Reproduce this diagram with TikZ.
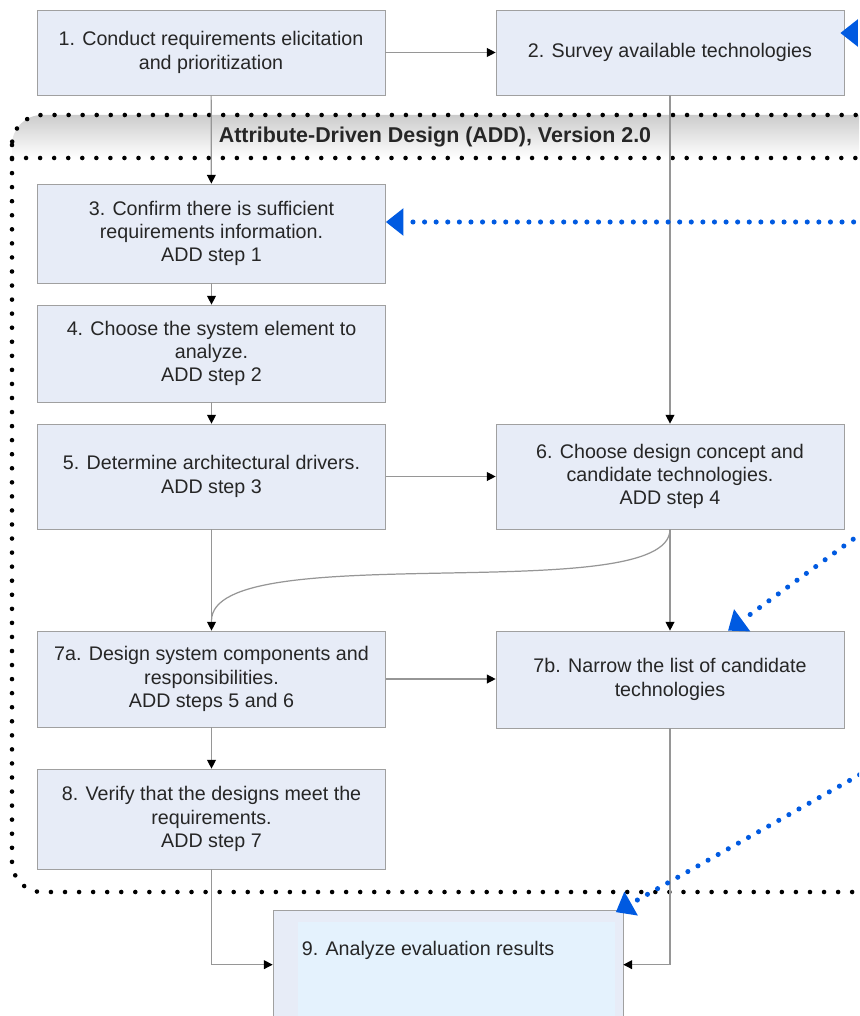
\documentclass[tikz,border=0pt]{standalone}
\usepackage{fontspec}
\setmainfont{Liberation Sans}
\usetikzlibrary{arrows.meta}

\definecolor{boxfill}{RGB}{231,236,247}
\definecolor{boxline}{RGB}{160,160,160}
\definecolor{linegray}{RGB}{150,150,150}
\definecolor{hintblue}{RGB}{0,90,225}
\definecolor{innerfill}{RGB}{228,242,253}

\begin{document}
\begin{tikzpicture}[x=0.02cm,y=-0.02cm]

%-------------------------------------------------
% Styles
%-------------------------------------------------
\tikzset{
  box/.style={draw=boxline, fill=boxfill, minimum width=6.96cm, align=center,
    inner sep=2pt, text=black!85, font=\fontsize{11.2}{13.2}\selectfont},
  flow/.style={draw=linegray, line width=0.7pt, -{Triangle[length=5pt,width=5pt,black]}},
  plain/.style={draw=linegray, line width=0.7pt},
  frame/.style={draw=black, line width=2.6pt, line cap=round, dash pattern=on 0pt off 8pt},
  hint/.style={draw=hintblue, line width=2.9pt, line cap=round, dash pattern=on 0pt off 6.6pt,
    -{Triangle[length=10pt,width=15pt,hintblue]}},
  title/.style={font=\fontsize{12.2}{14}\selectfont\bfseries, text=black!85}
}

\useasboundingbox (0,0) rectangle (859,1016);
\clip (0,0) rectangle (859,1016);

%-------------------------------------------------
% ADD frame with shaded header
%-------------------------------------------------
\begin{scope}
  \clip[rounded corners=0.6cm] (12,115) rectangle (900,892);
  \shade[top color=gray!40, bottom color=white] (12,115) rectangle (900,158);
\end{scope}
\draw[frame, rounded corners=0.6cm] (12,115) rectangle (900,892);
\draw[frame] (12,158) -- (900,158);
\node[title] (ttl) at (435,137) {Attribute-Driven Design (ADD), Version 2.0};

%-------------------------------------------------
% Process steps
%-------------------------------------------------
\node[box, minimum height=1.7cm] (b1) at (211,52.5)
  {1. Conduct requirements elicitation\\and prioritization};
\node[box, minimum height=1.7cm] (b2) at (670,52.5)
  {2. Survey available technologies};
\node[box, minimum height=1.98cm] (b3) at (211.5,233.5)
  {3. Confirm there is sufficient\\requirements information.\\ADD step 1};
\node[box, minimum height=1.94cm] (b4) at (211.5,353.5)
  {4. Choose the system element to\\analyze.\\ADD step 2};
\node[box, minimum height=2.1cm] (b5) at (211.5,476.5)
  {5. Determine architectural drivers.\\ADD step 3};
\node[box, minimum height=2.1cm] (b6) at (670,476.5)
  {6. Choose design concept and\\candidate technologies.\\ADD step 4};
\node[box, minimum height=1.92cm] (b7a) at (211.5,679)
  {7a. Design system components and\\responsibilities.\\ADD steps 5 and 6};
\node[box, minimum height=1.94cm] (b7b) at (670,679.5)
  {7b. Narrow the list of candidate\\technologies};
\node[box, minimum height=2cm] (b8) at (211.5,819)
  {8. Verify that the designs meet the\\requirements.\\ADD step 7};

% step 9 (runs off the bottom)
\node[box, minimum width=7cm, minimum height=2.6cm] (b9) at (448,975) {};
\fill[innerfill] (298,922) rectangle (615,1016);
\node[box, draw=none, fill=none, minimum width=0pt, anchor=west] (t9) at (298,950)
  {9. Analyze evaluation results};

%-------------------------------------------------
% Flow connectors
%-------------------------------------------------
\draw[flow] (b1) -- (b2);
\draw[flow] (b1) -- (b3);
\draw[flow] (b3) -- (b4);
\draw[flow] (b4) -- (b5);
\draw[flow] (b5) -- (b6);
\draw[flow] (b2) -- (b6);
\draw[flow] (b6) -- (b7b);
\draw[flow] (b5) -- (b7a);
\draw[plain] (b6.south) .. controls +(0,80) and +(0,-85) .. ([yshift=0.2cm]b7a.north);
\draw[flow] (b7a.east) -- (b7a.east -| b7b.west);
\draw[flow] (b7a) -- (b8);
\draw[flow] (b8.south) |- ([yshift=-1.1cm]b9.north west);
\draw[flow] (b7b.south) |- ([yshift=-1.1cm]b9.north east);

%-------------------------------------------------
% Blue dotted pointers (from the right)
%-------------------------------------------------
\coordinate (s2) at (920,33);
\coordinate (s3) at (900,222);
\coordinate (s7) at (900,505);
\coordinate (s9) at (900,752);

\draw[hint] (s2) -- ([yshift=0.39cm,xshift=-0.08cm]b2.east);
\draw[hint] (s3) -- ([yshift=0.23cm]b3.east);
\draw[hint] (s7) -- ([xshift=1.16cm]b7b.north);
\draw[hint] (s9) -- ([xshift=-0.15cm,yshift=-0.05cm]b9.north east);

\end{tikzpicture}
\end{document}
